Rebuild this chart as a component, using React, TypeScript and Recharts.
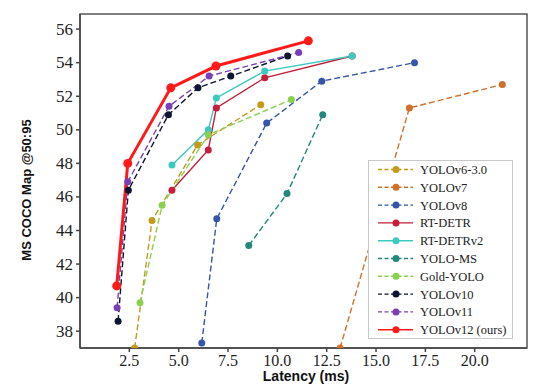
import React from 'react';
import { LineChart, Line, XAxis, YAxis, ReferenceArea, Label } from 'recharts';

const xTicks = [2.5, 5, 7.5, 10, 12.5, 15, 17.5, 20];
const yTicks = [38, 40, 42, 44, 46, 48, 50, 52, 54, 56];

const v6Lat = [2.77, 3.65, 5.96, 9.16];
const v6Map = [37.0, 44.6, 49.1, 51.5];
const v7Lat = [13.18, 16.69, 21.4];
const v7Map = [37.0, 51.3, 52.7];
const v8Lat = [6.17, 6.93, 9.46, 12.25, 16.95];
const v8Map = [37.3, 44.7, 50.4, 52.9, 54.0];
const rtdetrLat = [4.66, 6.5, 6.91, 9.36, 13.79];
const rtdetrMap = [46.4, 48.8, 51.3, 53.1, 54.4];
const rtdetr2Lat = [4.66, 6.5, 6.91, 9.36, 13.79];
const rtdetr2Map = [47.9, 50.0, 51.9, 53.5, 54.4];
const msLat = [8.55, 10.49, 12.3];
const msMap = [43.1, 46.2, 50.9];
const goldLat = [3.04, 4.16, 6.5, 10.71];
const goldMap = [39.7, 45.5, 49.7, 51.8];
const v10Lat = [1.93, 2.45, 4.48, 5.98, 7.64, 10.52];
const v10Map = [38.6, 46.4, 50.9, 52.5, 53.2, 54.4];
const v11Lat = [1.88, 2.42, 4.51, 6.54, 11.08];
const v11Map = [39.4, 46.9, 51.4, 53.2, 54.6];
const v12Lat = [1.86, 2.42, 4.6, 6.89, 11.57];
const v12Map = [40.7, 48.0, 52.5, 53.8, 55.3];

const zip = (lat: number[], map: number[]) => lat.map((x, i) => ({ x, y: map[i] }));

const series = [
  { name: 'YOLOv6-3.0', data: zip(v6Lat, v6Map), color: '#c49a1c', dash: true, w: 1.4, r: 3.5 },
  { name: 'YOLOv7', data: zip(v7Lat, v7Map), color: '#d0702a', dash: true, w: 1.4, r: 3.5 },
  { name: 'YOLOv8', data: zip(v8Lat, v8Map), color: '#3556a8', dash: true, w: 1.4, r: 3.5 },
  { name: 'RT-DETR', data: zip(rtdetrLat, rtdetrMap), color: '#c41e3a', dash: false, w: 1.4, r: 3.5 },
  { name: 'RT-DETRv2', data: zip(rtdetr2Lat, rtdetr2Map), color: '#3ec9c0', dash: false, w: 1.4, r: 3.5 },
  { name: 'YOLO-MS', data: zip(msLat, msMap), color: '#21887a', dash: true, w: 1.4, r: 3.5 },
  { name: 'Gold-YOLO', data: zip(goldLat, goldMap), color: '#8cd050', dash: true, w: 1.4, r: 3.5 },
  { name: 'YOLOv10', data: zip(v10Lat, v10Map), color: '#0d1530', dash: true, w: 1.4, r: 3.5 },
  { name: 'YOLOv11', data: zip(v11Lat, v11Map), color: '#7a3fb5', dash: true, w: 1.4, r: 3.5 },
  { name: 'YOLOv12 (ours)', data: zip(v12Lat, v12Map), color: '#ff1a1a', dash: false, w: 3, r: 4.5 },
];

const serif = '"Liberation Serif", "Times New Roman", serif';
const sans = '"Liberation Sans", Arial, sans-serif';

// tick renderers so the serif face is applied for sure
const XTick = (props: any) => {
  const { x, y, payload } = props;
  return (
    <text x={x} y={y + 13} textAnchor="middle" fontFamily={serif} fontSize={16} fill="#222">
      {Number(payload.value).toFixed(1)}
    </text>
  );
};

const YTick = (props: any) => {
  const { x, y, payload } = props;
  return (
    <text x={x} y={y + 5.5} textAnchor="end" fontFamily={serif} fontSize={17} fill="#222">
      {payload.value}
    </text>
  );
};

const LegendBox = () => (
  <div style={{ position: 'absolute', left: 368, top: 160, width: 145, height: 179,
    border: '1px solid #c8c8c8', background: '#fff', boxSizing: 'border-box' }}>
    <svg width={143} height={177} style={{ display: 'block' }}>
      {series.map((s, i) => {
        const cy = 8.5 + i * 17.8;
        return (
          <g key={s.name}>
            <line x1={9} x2={44} y1={cy} y2={cy} stroke={s.color} strokeWidth={1.4}
              strokeDasharray={s.dash ? '4 2.5' : undefined} />
            <circle cx={27} cy={cy} r={3.5} fill={s.color} />
            <text x={51} y={cy + 4.5} fontFamily={serif} fontSize={12.5} fill="#222">{s.name}</text>
          </g>
        );
      })}
    </svg>
  </div>
);

export default function App() {
  return (
    <div style={{ position: 'absolute', left: 0, top: 0, width: 540, height: 389, background: '#fff' }}>
      <LineChart width={540} height={389} margin={{ top: 14, right: 13, left: 30, bottom: 11 }}>
        <XAxis type="number" dataKey="x" domain={[0, 22.65]} ticks={xTicks} allowDataOverflow
          height={30} tickSize={4} tickMargin={1}
          stroke="#444" strokeWidth={1.5}
          tick={<XTick />}>
          <Label content={() => (
            <text x={306} y={381} textAnchor="middle" fontFamily={sans} fontSize={14} fontWeight="bold" fill="#111">
              Latency (ms)
            </text>
          )} />
        </XAxis>
        <YAxis type="number" dataKey="y" domain={[37.0, 56.9]} ticks={yTicks} allowDataOverflow
          width={50} tickSize={4} tickMargin={3}
          stroke="#444" strokeWidth={1.5}
          tick={<YTick />}>
          <Label content={() => (
            <text x={31} y={190} textAnchor="middle" transform="rotate(-90 31 190)"
              fontFamily={sans} fontSize={13} fontWeight="bold" fill="#111">
              MS COCO Map @50:95
            </text>
          )} />
        </YAxis>
        <ReferenceArea x1={0} x2={22.65} y1={37.0} y2={56.9} fill="none" stroke="#555" strokeWidth={1.5} />
        {series.map((s) => (
          <Line key={s.name} name={s.name} data={s.data} dataKey="y" type="linear"
            stroke={s.color} strokeWidth={s.w} strokeDasharray={s.dash ? '6 3' : undefined}
            dot={{ r: s.r, fill: s.color, stroke: s.color, strokeWidth: 0 }}
            activeDot={false} isAnimationActive={false} />
        ))}
      </LineChart>
      <LegendBox />
    </div>
  );
}
